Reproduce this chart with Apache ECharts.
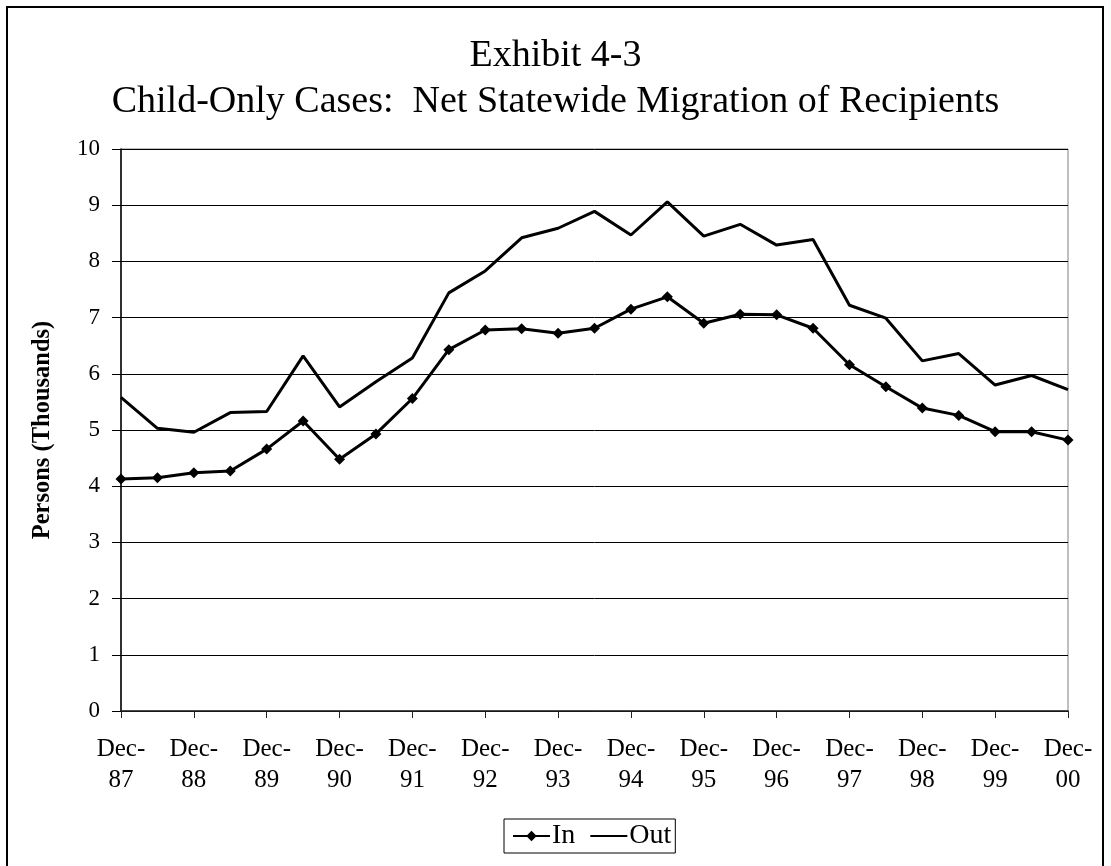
<!DOCTYPE html>
<html>
<head>
<meta charset="utf-8">
<script src="https://cdn.jsdelivr.net/npm/echarts@6/dist/echarts.min.js"></script>
<style>
  html, body { margin: 0; padding: 0; background: #fff; }
  #chart { width: 1111px; height: 866px; }
</style>
</head>
<body>
<div id="chart"></div>
<script>
// Semiannual observation points, Dec-87 through Dec-00
const categories = [
  'Dec-87', 'Jun-88', 'Dec-88', 'Jun-89', 'Dec-89', 'Jun-90', 'Dec-90',
  'Jun-91', 'Dec-91', 'Jun-92', 'Dec-92', 'Jun-93', 'Dec-93', 'Jun-94',
  'Dec-94', 'Jun-95', 'Dec-95', 'Jun-96', 'Dec-96', 'Jun-97', 'Dec-97',
  'Jun-98', 'Dec-98', 'Jun-99', 'Dec-99', 'Jun-00', 'Dec-00'
];

// Recipients migrating in (thousands)
const inValues = [
  4.13, 4.15, 4.24, 4.27, 4.66, 5.16, 4.48,
  4.93, 5.56, 6.43, 6.78, 6.80, 6.72, 6.81,
  7.15, 7.37, 6.90, 7.06, 7.05, 6.81, 6.16,
  5.77, 5.39, 5.26, 4.97, 4.97, 4.82
];

// Recipients migrating out (thousands)
const outValues = [
  5.58, 5.03, 4.96, 5.31, 5.33, 6.32, 5.41,
  5.86, 6.28, 7.44, 7.83, 8.42, 8.59, 8.89,
  8.47, 9.06, 8.45, 8.66, 8.29, 8.39, 7.22,
  6.99, 6.23, 6.36, 5.80, 5.97, 5.72
];

const titleLines = ['Exhibit 4-3', 'Child-Only Cases:  Net Statewide Migration of Recipients'];
const yAxisName = 'Persons (Thousands)';

const serif = "'Liberation Serif', 'Times New Roman', serif";

const chart = echarts.init(document.getElementById('chart'), null, { renderer: 'canvas' });

chart.setOption({
  backgroundColor: '#fff',
  animation: false,
  textStyle: { fontFamily: serif, color: '#000' },
  title: {
    text: titleLines.join('\n'),
    left: 'center',
    top: 28,
    textStyle: {
      fontFamily: serif,
      fontWeight: 'normal',
      fontSize: 38,
      lineHeight: 46,
      color: '#000'
    }
  },
  graphic: [{
    type: 'rect',
    shape: { x: 7, y: 7, width: 1096, height: 880 },
    style: { fill: null, stroke: '#000', lineWidth: 2 },
    silent: true,
    z: -1
  }],
  legend: {
    left: 504,
    bottom: 13,
    data: [
      { name: 'In' },
      { name: 'Out', itemStyle: { opacity: 0 } }
    ],
    itemWidth: 37,
    itemHeight: 13,
    itemGap: 14,
    padding: [3, 4, 3, 8],
    borderColor: '#000',
    borderWidth: 1,
    borderRadius: 0,
    textStyle: { fontFamily: serif, fontSize: 28, color: '#000', padding: [0, 0, 0, -3] }
  },
  grid: {
    left: 121,
    top: 149,
    right: 43,
    bottom: 155,
    show: true,
    borderColor: '#808080',
    borderWidth: 1,
    containLabel: false
  },
  xAxis: {
    type: 'category',
    data: categories,
    boundaryGap: false,
    axisLine: { lineStyle: { color: '#222', width: 1.5 } },
    axisTick: { show: true, interval: 1, length: 7, lineStyle: { color: '#222' } },
    axisLabel: {
      interval: 1,
      margin: 23,
      fontFamily: serif,
      fontSize: 25,
      lineHeight: 31,
      color: '#000',
      formatter: v => v.replace('-', '-\n')
    },
    splitLine: { show: false }
  },
  yAxis: {
    type: 'value',
    min: 0,
    max: 10,
    interval: 1,
    name: yAxisName,
    nameLocation: 'middle',
    nameGap: 66,
    nameTextStyle: { fontFamily: serif, fontSize: 24.5, fontWeight: 'bold', color: '#000' },
    axisLine: { show: true, lineStyle: { color: '#000', width: 1.5 } },
    axisTick: { show: true, length: 9, lineStyle: { color: '#000' } },
    axisLabel: { margin: 21, fontFamily: serif, fontSize: 23, color: '#000' },
    splitLine: { show: true, lineStyle: { color: '#000', width: 1 } }
  },
  series: [
    {
      name: 'In',
      type: 'line',
      data: inValues,
      symbol: 'diamond',
      symbolSize: 11,
      showAllSymbol: true,
      lineStyle: { color: '#000', width: 3 },
      itemStyle: { color: '#000' },
      z: 3
    },
    {
      name: 'Out',
      type: 'line',
      data: outValues,
      symbol: 'diamond',
      showSymbol: false,
      lineStyle: { color: '#000', width: 3 },
      itemStyle: { color: '#000' },
      z: 3
    }
  ]
});
</script>
</body>
</html>
